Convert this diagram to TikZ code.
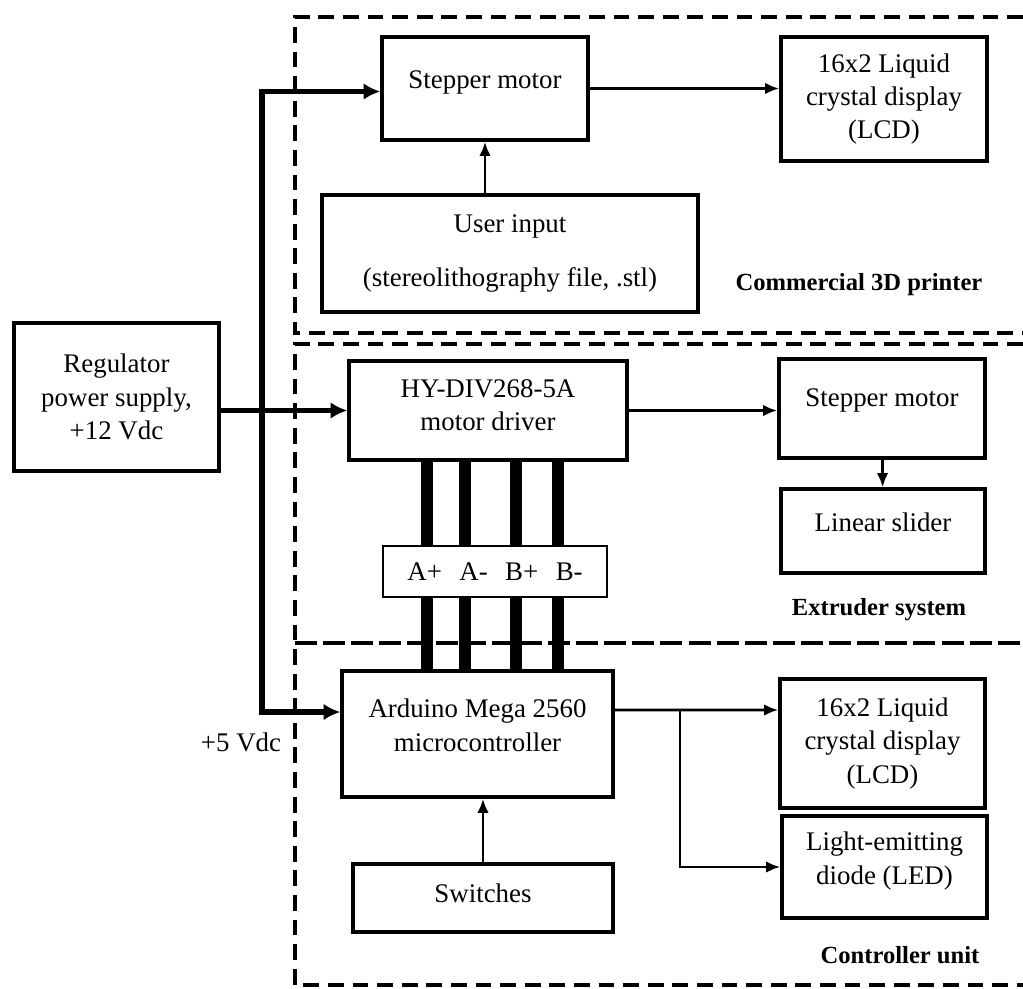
\documentclass[tikz,border=0pt]{standalone}
\usepackage{fontspec}
\setmainfont{Liberation Serif}
\usetikzlibrary{arrows.meta}

% profondita' in piu' sotto l'ultima riga: il testo sale nel blocco
\newcommand{\alza}[1]{\rule[-#1]{0pt}{0pt}}

\begin{document}
\begin{tikzpicture}[
    x=0.02cm, y=-0.02cm,
    font=\fontsize{15.3}{19}\selectfont,
    blocco/.style={rectangle,draw,line width=2pt,fill=white,
                   align=center,inner sep=0pt},
    freccia/.style={line width=1.5pt,-{Latex[length=8pt,width=6.5pt]}},
    potenza/.style={line width=3.2pt,-{Latex[length=9.5pt,width=9.5pt]}},
    filo/.style={line width=6.8pt},
    confine/.style={line width=2.2pt,dash pattern=on 9pt off 5pt},
    confine2/.style={line width=1.8pt,dash pattern=on 12.5pt off 3.5pt},
    titolo/.style={font=\fontsize{14}{17}\selectfont\bfseries}]

  \useasboundingbox (0,0) rectangle (1023,988);

  % --- le tre zone tratteggiate ---
  \draw[confine] (1023,17) -- (295,17) -- (295,333) -- (1023,333);
  \draw[confine] (1023,344) -- (295,344) -- (295,985) -- (1023,985);
  \draw[confine2] (295,643) -- (1023,643);

  % --- blocchi ---
  \node[blocco,minimum width=4.1cm,minimum height=2.96cm] (alim) at (116.5,397)
       {Regulator\\power supply,\\+12 Vdc};
  \node[blocco,minimum width=4.12cm,minimum height=2.06cm] (motore) at (485,88.5)
       {Stepper motor\alza{10pt}};
  \node[blocco,minimum width=4.12cm,minimum height=2.48cm] (lcdA) at (884,99)
       {16x2 Liquid\\crystal display\\(LCD)};
  \node[blocco,minimum width=7.52cm,minimum height=2.34cm] (utente) at (510,253.5)
       {User input\\[11.5pt](stereolithography file, .stl)};
  \node[blocco,minimum width=5.56cm,minimum height=1.98cm] (driver) at (488,410.5)
       {HY-DIV268-5A\\motor driver\alza{6pt}};
  \node[blocco,minimum width=4.12cm,minimum height=1.98cm] (motoreB) at (882,408.5)
       {Stepper motor\alza{12pt}};
  \node[blocco,minimum width=4.08cm,minimum height=1.68cm] (slitta) at (883,531)
       {Linear slider\alza{10pt}};
  \node[blocco,minimum width=5.42cm,minimum height=2.52cm] (arduino) at (477.5,734)
       {Arduino Mega 2560\\microcontroller\alza{10pt}};
  \node[blocco,minimum width=4.1cm,minimum height=2.58cm] (lcdB) at (882.5,743.5)
       {16x2 Liquid\\crystal display\\(LCD)};
  \node[blocco,minimum width=4.1cm,minimum height=2.04cm] (led) at (884.5,867)
       {Light-emitting\\diode (LED)\alza{10pt}};
  \node[blocco,minimum width=5.2cm,minimum height=1.36cm] (interr) at (483,898)
       {Switches\alza{6pt}};

  % --- i quattro fili delle fasi ---
  \foreach \x [count=\i] in {427,465,516,558}{
    \coordinate (f\i) at (\x,0);
    \draw[filo] (driver.south -| f\i) -- (arduino.north -| f\i);
  }
  \node[blocco,line width=1.3pt,minimum width=4.48cm,minimum height=1.02cm] (morsetti)
       at (495,571.5) {A+\hspace{0.65em}A-\hspace{0.65em}B+\hspace{0.65em}B-};

  % --- alimentazione ---
  \coordinate (bus) at (262,411);
  \draw[potenza] (alim.east |- driver.west) -- (driver.west);
  \draw[potenza] (bus) |- ([yshift=-0.06cm]motore.west);
  \draw[potenza] (bus) |- ([yshift=0.44cm]arduino.west);

  % --- segnali ---
  \coordinate (bivio) at (680,710);
  \draw[freccia] (motore.east) -- (lcdA.west |- motore.east);
  \draw[freccia] (motore.south |- utente.north) -- (motore.south);
  \draw[freccia] (driver.east) -- (motoreB.west |- driver.east);
  \draw[freccia] (motoreB) -- (slitta);
  \draw[freccia] ([yshift=0.48cm]arduino.east) -- (lcdB.west |- bivio);
  \draw[freccia] (bivio) |- (led.west);
  \draw[freccia] (interr.north) -- (interr.north |- arduino.south);

  % --- etichette ---
  \node (tensione) at (241,742) {+5 Vdc};
  \node[titolo] (titA) at (859,285) {Commercial 3D printer};
  \node[titolo] (titB) at (879,610) {Extruder system};
  \node[titolo] (titC) at (900,955) {Controller unit};

\end{tikzpicture}
\end{document}
